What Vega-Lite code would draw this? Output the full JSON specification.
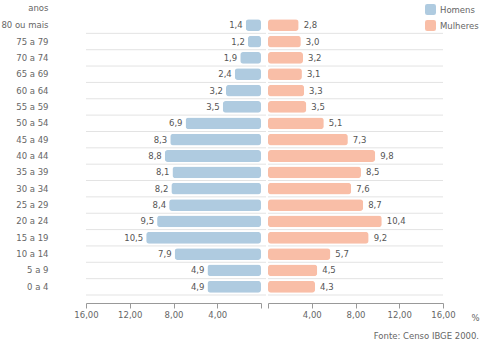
{
  "$schema": "https://vega.github.io/schema/vega-lite/v6.json",
  "padding": {"left": 0, "top": 3, "right": 2, "bottom": 0},
  "config": {
    "font": "DejaVu Sans",
    "view": {"stroke": null},
    "locale": {"number": {"decimal": ",", "thousands": ".", "grouping": [3], "currency": ["R$", ""]}}
  },
  "data": {"values": [
    {"idade": "80 ou mais", "sexo": "Homens", "valor": 1.4},
    {"idade": "75 a 79", "sexo": "Homens", "valor": 1.2},
    {"idade": "70 a 74", "sexo": "Homens", "valor": 1.9},
    {"idade": "65 a 69", "sexo": "Homens", "valor": 2.4},
    {"idade": "60 a 64", "sexo": "Homens", "valor": 3.2},
    {"idade": "55 a 59", "sexo": "Homens", "valor": 3.5},
    {"idade": "50 a 54", "sexo": "Homens", "valor": 6.9},
    {"idade": "45 a 49", "sexo": "Homens", "valor": 8.3},
    {"idade": "40 a 44", "sexo": "Homens", "valor": 8.8},
    {"idade": "35 a 39", "sexo": "Homens", "valor": 8.1},
    {"idade": "30 a 34", "sexo": "Homens", "valor": 8.2},
    {"idade": "25 a 29", "sexo": "Homens", "valor": 8.4},
    {"idade": "20 a 24", "sexo": "Homens", "valor": 9.5},
    {"idade": "15 a 19", "sexo": "Homens", "valor": 10.5},
    {"idade": "10 a 14", "sexo": "Homens", "valor": 7.9},
    {"idade": "5 a 9", "sexo": "Homens", "valor": 4.9},
    {"idade": "0 a 4", "sexo": "Homens", "valor": 4.9},
    {"idade": "80 ou mais", "sexo": "Mulheres", "valor": 2.8},
    {"idade": "75 a 79", "sexo": "Mulheres", "valor": 3.0},
    {"idade": "70 a 74", "sexo": "Mulheres", "valor": 3.2},
    {"idade": "65 a 69", "sexo": "Mulheres", "valor": 3.1},
    {"idade": "60 a 64", "sexo": "Mulheres", "valor": 3.3},
    {"idade": "55 a 59", "sexo": "Mulheres", "valor": 3.5},
    {"idade": "50 a 54", "sexo": "Mulheres", "valor": 5.1},
    {"idade": "45 a 49", "sexo": "Mulheres", "valor": 7.3},
    {"idade": "40 a 44", "sexo": "Mulheres", "valor": 9.8},
    {"idade": "35 a 39", "sexo": "Mulheres", "valor": 8.5},
    {"idade": "30 a 34", "sexo": "Mulheres", "valor": 7.6},
    {"idade": "25 a 29", "sexo": "Mulheres", "valor": 8.7},
    {"idade": "20 a 24", "sexo": "Mulheres", "valor": 10.4},
    {"idade": "15 a 19", "sexo": "Mulheres", "valor": 9.2},
    {"idade": "10 a 14", "sexo": "Mulheres", "valor": 5.7},
    {"idade": "5 a 9", "sexo": "Mulheres", "valor": 4.5},
    {"idade": "0 a 4", "sexo": "Mulheres", "valor": 4.3}
  ]},
  "title": {"text": "Fonte: Censo IBGE 2000.", "orient": "bottom", "anchor": "end", "fontSize": 8.5, "fontWeight": "normal", "color": "#666", "offset": 10},
  "spacing": 0,
  "resolve": {"scale": {"x": "independent", "color": "shared"}, "axis": {"x": "independent", "y": "independent"}, "legend": {"color": "shared"}},
  "hconcat": [
    {
      "width": 175,
      "height": 278,
      "transform": [{"filter": "datum.sexo == 'Homens'"}],
      "layer": [
        {
          "mark": {"type": "rule", "color": "#e3e3e3", "strokeWidth": 1},
          "encoding": {
            "y": {"field": "idade", "type": "nominal", "sort": null, "bandPosition": 1, "scale": {"paddingInner": 0, "paddingOuter": 0}},
            "x": {"datum": 16, "type": "quantitative", "scale": {"domain": [0, 16], "reverse": true}},
            "x2": {"datum": -0.46}
          }
        },
        {
          "mark": {"type": "bar", "height": {"band": 0.72}, "cornerRadius": 3},
          "encoding": {
            "y": {"field": "idade", "type": "nominal", "sort": null, "scale": {"paddingInner": 0, "paddingOuter": 0},
              "axis": {"title": "anos", "titleAngle": 0, "titleAlign": "right", "titleBaseline": "middle", "titleX": -38, "titleY": -10, "titleFontWeight": "normal", "titleFontSize": 8.5, "titleColor": "#666", "labelPadding": 38, "ticks": false, "domain": false, "grid": false, "labelFontSize": 8.5, "labelColor": "#666"}},
            "x": {"field": "valor", "type": "quantitative", "scale": {"domain": [0, 16], "reverse": true},
              "axis": {"values": [0, 2, 4, 6, 8, 10, 12, 14, 16], "format": ".2f", "labelExpr": "datum.value > 0 && datum.value % 4 == 0 ? datum.label : ''", "labelOverlap": false, "labelFlush": false, "offset": 8, "tickSize": 5, "domainColor": "#999", "tickColor": "#999", "labelPadding": 2, "grid": false, "title": null, "labelFontSize": 8.5, "labelColor": "#666"}},
            "color": {"field": "sexo", "type": "nominal", "scale": {"domain": ["Homens", "Mulheres"], "range": ["#afcbe0", "#f9bea7"]},
              "legend": {"title": null, "orient": "none", "legendX": 339, "legendY": -13, "symbolType": "M-1,-0.6Q-1,-1,-0.6,-1L0.6,-1Q1,-1,1,-0.6L1,0.6Q1,1,0.6,1L-0.6,1Q-1,1,-1,0.6Z", "symbolSize": 121, "symbolStrokeWidth": 0, "symbolOpacity": 1, "labelFontSize": 8.5, "labelColor": "#666", "labelOffset": 4, "rowPadding": 5, "padding": 0}}
          }
        },
        {
          "mark": {"type": "text", "align": "right", "baseline": "middle", "dx": -3, "fontSize": 8.5, "color": "#555"},
          "encoding": {
            "y": {"field": "idade", "type": "nominal", "sort": null},
            "x": {"field": "valor", "type": "quantitative", "scale": {"domain": [0, 16], "reverse": true}},
            "text": {"field": "valor", "type": "quantitative", "format": ".1f"}
          }
        }
      ]
    },
    {
      "width": 175,
      "height": 278,
      "transform": [{"filter": "datum.sexo == 'Mulheres'"}],
      "layer": [
        {
          "mark": {"type": "rule", "color": "#e3e3e3", "strokeWidth": 1},
          "encoding": {
            "y": {"field": "idade", "type": "nominal", "sort": null, "bandPosition": 1, "scale": {"paddingInner": 0, "paddingOuter": 0}, "axis": null}
          }
        },
        {
          "mark": {"type": "bar", "height": {"band": 0.72}, "cornerRadius": 3},
          "encoding": {
            "y": {"field": "idade", "type": "nominal", "sort": null, "scale": {"paddingInner": 0, "paddingOuter": 0}, "axis": null},
            "x": {"field": "valor", "type": "quantitative", "scale": {"domain": [0, 16]},
              "axis": {"values": [0, 2, 4, 6, 8, 10, 12, 14, 16], "format": ".2f", "labelExpr": "datum.value > 0 && datum.value % 4 == 0 ? datum.label : ''", "labelOverlap": false, "labelFlush": false, "offset": 8, "tickSize": 5, "domainColor": "#999", "tickColor": "#999", "labelPadding": 2, "grid": false, "labelFontSize": 8.5, "labelColor": "#666",
                "title": "%", "titleX": 203, "titleY": 14, "titleAlign": "left", "titleBaseline": "middle", "titleFontWeight": "normal", "titleFontSize": 8.5, "titleColor": "#666"}},
            "color": {"field": "sexo", "type": "nominal", "scale": {"domain": ["Homens", "Mulheres"], "range": ["#afcbe0", "#f9bea7"]},
              "legend": {"title": null, "orient": "none", "legendX": 339, "legendY": -13, "symbolType": "M-1,-0.6Q-1,-1,-0.6,-1L0.6,-1Q1,-1,1,-0.6L1,0.6Q1,1,0.6,1L-0.6,1Q-1,1,-1,0.6Z", "symbolSize": 121, "symbolStrokeWidth": 0, "symbolOpacity": 1, "labelFontSize": 8.5, "labelColor": "#666", "labelOffset": 4, "rowPadding": 5, "padding": 0}}
          }
        },
        {
          "mark": {"type": "text", "align": "left", "baseline": "middle", "dx": 5, "fontSize": 8.5, "color": "#555"},
          "encoding": {
            "y": {"field": "idade", "type": "nominal", "sort": null, "axis": null},
            "x": {"field": "valor", "type": "quantitative", "scale": {"domain": [0, 16]}},
            "text": {"field": "valor", "type": "quantitative", "format": ".1f"}
          }
        }
      ]
    }
  ]
}
